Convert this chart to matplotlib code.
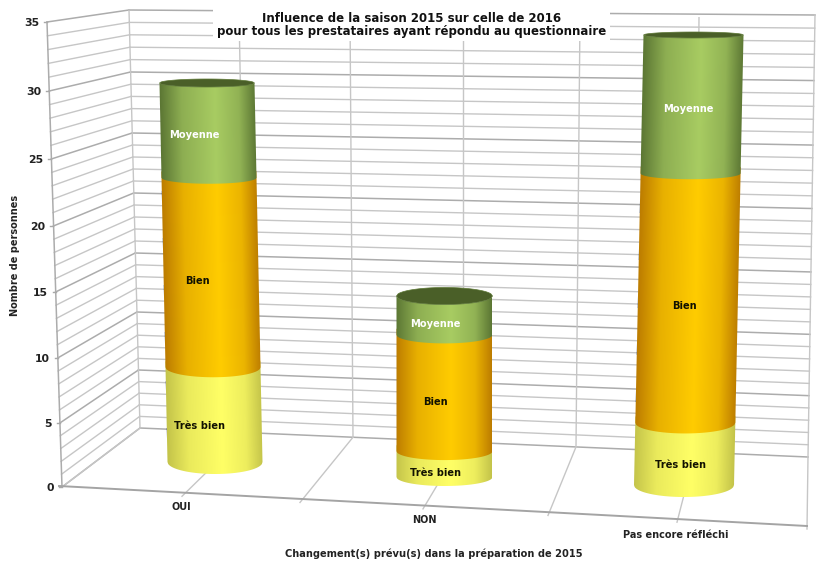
import numpy as np
import matplotlib
matplotlib.use("Agg")
import matplotlib.pyplot as plt
from matplotlib.patches import Rectangle, Polygon
from matplotlib.transforms import Affine2D

categories = ["OUI", "NON", "Pas encore réfléchi"]
series_names = ["Très bien", "Bien", "Moyenne"]
tres_bien = [7, 2, 4.5]
bien = [14, 9, 18]
moyenne = [7, 3, 10]
y_ticks = [0, 5, 10, 15, 20, 25, 30, 35]

title = "Influence de la saison 2015 sur celle de 2016\npour tous les prestataires ayant répondu au questionnaire"
xlabel = "Changement(s) prévu(s) dans la préparation de 2015"
ylabel = "Nombre de personnes"

# wall layout in figure pixels
front_y = [487, 423, 358, 292, 226, 159, 91, 22]
back_y = [428, 370, 312, 253, 193, 133, 72, 10]
right_bottom, right_top = 457, 15
wall_top_x = [239, 350, 463, 580, 699]
wall_bot_x = [247, 353, 463, 576, 695]
floor_front_x = [182, 300, 423, 548, 677]

# cylinder layout: base y, top y, center bottom, center top, half width, ellipse b bottom/top, label shift
cyl_layout = [
    (462, 83, 215, 207, 47.5, 12, 4, -14),
    (477, 296, 444.5, 444.5, 48, 9, 8.5, -9),
    (485, 35, 684, 693.5, 50, 12, 3, -4),
]
light = ["#ffff66", "#ffcc00", "#a8cc62"]
edge = ["#c4c44a", "#bd7d00", "#5c7734"]
text_col = ["#111100", "#111100", "#ffffff"]

fig = plt.figure(figsize=(8.17, 5.63), dpi=100)
ax = fig.add_axes([0, 0, 1, 1])
ax.set_xlim(0, 817)
ax.set_ylim(563, 0)
ax.axis("off")


def wall_line(xs, ys, major):
    if major:
        ax.plot(xs, ys, color="#acacac", lw=1.1, zorder=1)
    else:
        ax.plot(xs, ys, color="#c6c6c6", lw=1.0, zorder=1)


# horizontal grid on the two walls, one line per person
for v in range(36):
    major = v % 5 == 0
    fy = np.interp(v, y_ticks, front_y)
    by = np.interp(v, y_ticks, back_y)
    ry = right_bottom - (back_y[0] - by) * (right_bottom - right_top) / (back_y[0] - back_y[-1])
    wall_line([62 - v / 35 * 15, 140 - v / 35 * 11], [fy, by], major)
    wall_line([140 - v / 35 * 11, 808 + v / 35 * 7], [by, ry], major)

# verticals on the back wall + floor lines
for tx, bx, fx in zip(wall_top_x, wall_bot_x, floor_front_x):
    by = back_y[0] + (bx - 140) * (right_bottom - back_y[0]) / 668
    fy = 487 + (fx - 62) * 39 / 745
    wall_line([tx, bx], [12 + (tx - 129) * 0.01, by], False)
    wall_line([bx, fx], [by, fy + 3], False)

wall_line([47, 62], [22, 487], True)
wall_line([129, 140], [10, 428], False)
wall_line([815, 808], [15, 457], False)
wall_line([808, 807], [457, 529], False)
wall_line([140, 62], [428, 487], False)
ax.plot([59, 807], [486, 526], color="#a4a4a4", lw=1.4, zorder=1)

# white box behind the title
ax.add_patch(Rectangle((213, 0), 397, 41, facecolor="white", edgecolor="none", zorder=2))

# cylinders
u = np.linspace(-1, 1, 140)
for i, cat in enumerate(categories):
    base, top, cx0, cx1, hw, b0, b1, shift = cyl_layout[i]
    vals = [tres_bien[i], bien[i], moyenne[i]]
    total = sum(vals)
    scale = (base - top) / total
    # (u, v) -> pixels: u across the cylinder, v in persons
    tr = Affine2D.from_values(hw, 0, (cx1 - cx0) / total, -scale, cx0, base) + ax.transData

    def arc(uu, v):
        b = b0 + (b1 - b0) * v / total
        return b * np.sqrt(np.clip(1 - uu ** 2, 0, 1)) / scale

    start = 0
    for s, val in enumerate(vals):
        end = start + val
        lc = np.array(matplotlib.colors.to_rgb(light[s]))
        ec = np.array(matplotlib.colors.to_rgb(edge[s]))
        t = np.interp(u, [-1, -0.55, 0.15, 0.65, 1], [0, 0.65, 1, 0.7, 0])
        cols = ec + (lc - ec) * t[:, None]
        # lower pieces run a bit under the next one so no seam shows
        upper = end if s == 2 else end + 0.5
        outline = np.concatenate([np.column_stack([u, start - arc(u, start)]),
                                  np.column_stack([u[::-1], upper - arc(u[::-1], upper)])])
        clip = Polygon(outline, closed=True, transform=tr)
        im = ax.imshow(cols[None, :, :], extent=(-1, 1, start - 2, upper + 2), aspect="auto",
                       origin="lower", interpolation="bilinear", transform=tr, zorder=3 + s * 0.1)
        im.set_clip_path(clip)
        mid = (start + end) / 2
        b_mid = b0 + (b1 - b0) * mid / total
        lx = cx0 + (cx1 - cx0) * mid / total + shift
        ly = base - mid * scale + b_mid
        ax.text(lx, ly, series_names[s], color=text_col[s], fontsize=7.1, fontweight="bold",
                ha="center", va="center", zorder=5)
        start = end
    # top cap
    uu = np.linspace(-1, 1, 60)
    cap = np.concatenate([np.column_stack([uu, total - arc(uu, total)]),
                          np.column_stack([uu[::-1], total + arc(uu[::-1], total)])])
    ax.add_patch(Polygon(cap, closed=True, facecolor="#4a5f28", edgecolor="#5c7734", lw=0.5,
                         transform=tr, zorder=4))

ax.set_xlim(0, 817)
ax.set_ylim(563, 0)

# tick labels
for v, fy in zip(y_ticks, front_y):
    fx = 62 - v / 35 * 15
    ax.plot([fx - 3, fx], [fy, fy], color="#a8a8a8", lw=1, zorder=1)
    ax.text(fx - 8, fy + 1, str(v), ha="right", va="center", fontsize=7.8, fontweight="bold", color="#222222")

cat_pos = [(181, 507), (424, 520), (676, 535)]
for cat, (px, py) in zip(categories, cat_pos):
    ax.text(px, py, cat, ha="center", va="center", fontsize=7.0, fontweight="bold", color="#222222")

ax.text(412, 25, title, ha="center", va="center", fontsize=8.45, fontweight="bold",
        color="#111111", linespacing=1.1, zorder=6)
ax.text(434, 554, xlabel, ha="center", va="center", fontsize=7.15, fontweight="bold", color="#222222")
ax.text(15, 255, ylabel, ha="center", va="center", rotation=90, fontsize=7.0, fontweight="bold", color="#222222")

fig.savefig("out.png", dpi=100)
